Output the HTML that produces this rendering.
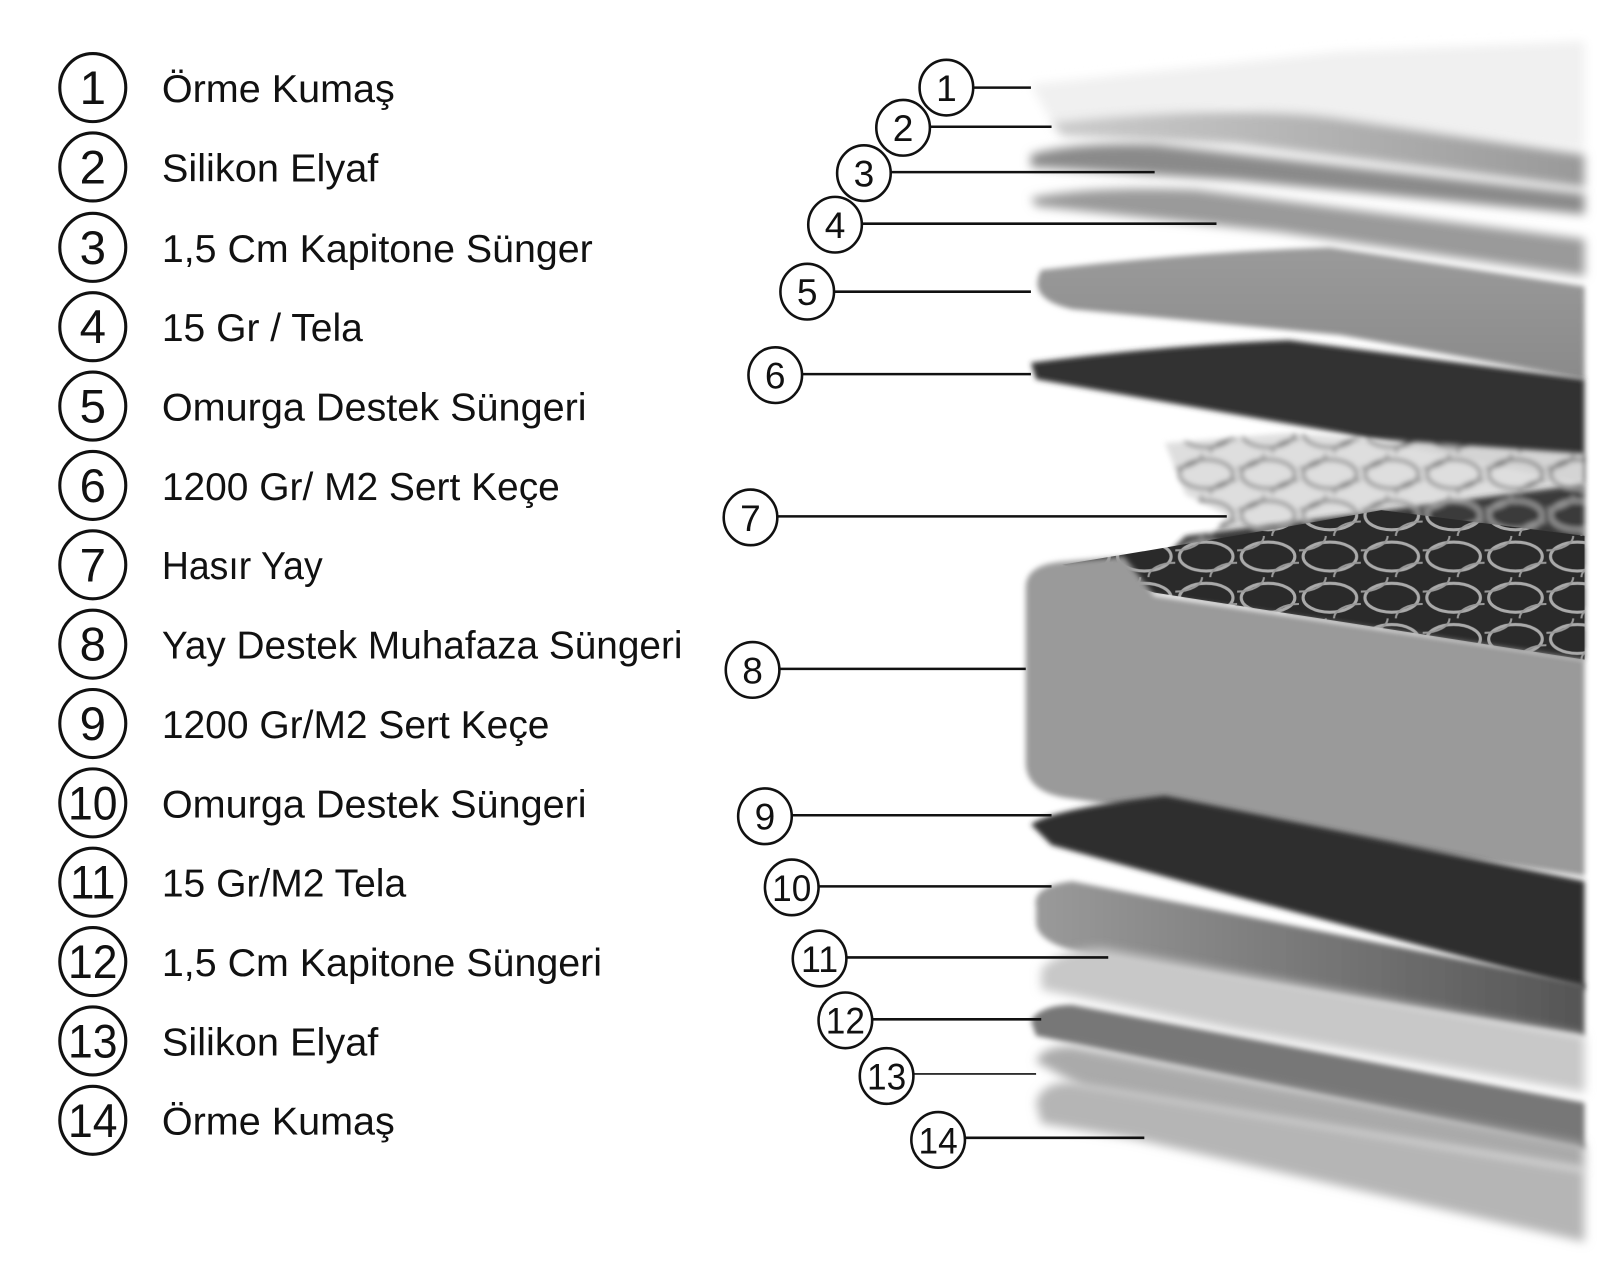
<!DOCTYPE html>
<html><head><meta charset="utf-8"><style>
html,body{margin:0;padding:0;background:#fff;width:1600px;height:1278px;overflow:hidden}
svg{display:block}
text{font-family:"Liberation Sans Narrow","Liberation Sans",sans-serif;fill:#111}
</style></head><body>
<svg width="1600" height="1278" viewBox="0 0 1552 1240" preserveAspectRatio="none" xmlns="http://www.w3.org/2000/svg">
<defs>
<filter id="b" x="-5%" y="-20%" width="110%" height="140%"><feGaussianBlur stdDeviation="5"/></filter>
<filter id="b2" x="-5%" y="-20%" width="110%" height="140%"><feGaussianBlur stdDeviation="2.5"/></filter>
<linearGradient id="g2" x1="0" y1="0" x2="1" y2="0"><stop offset="0" stop-color="#ccc"/><stop offset="1" stop-color="#999"/></linearGradient>
<linearGradient id="g5" x1="0" y1="0" x2="0" y2="1"><stop offset="0" stop-color="#9a9a9a"/><stop offset="1" stop-color="#8a8a8a"/></linearGradient>
<linearGradient id="g10" x1="0" y1="0" x2="1" y2="0"><stop offset="0" stop-color="#9a9a9a"/><stop offset="1" stop-color="#555"/></linearGradient>
<pattern id="sp" width="60" height="40" patternUnits="userSpaceOnUse"><rect width="60" height="40" fill="#2a2a2a"/><ellipse cx="30" cy="20" rx="26" ry="14" fill="none" stroke="#aaa" stroke-width="3"/><ellipse cx="0" cy="0" rx="26" ry="14" fill="none" stroke="#999" stroke-width="2"/><ellipse cx="60" cy="40" rx="26" ry="14" fill="none" stroke="#999" stroke-width="2"/></pattern>
<pattern id="sp2" width="60" height="40" patternUnits="userSpaceOnUse"><rect width="60" height="40" fill="#ddd"/><ellipse cx="30" cy="20" rx="26" ry="14" fill="none" stroke="#555" stroke-width="2.5"/><ellipse cx="0" cy="0" rx="26" ry="14" fill="none" stroke="#666" stroke-width="2"/><ellipse cx="60" cy="40" rx="26" ry="14" fill="none" stroke="#666" stroke-width="2"/></pattern>
</defs>

<!-- mattress layers -->
<g>
<path d="M1000,82 L1300,50 L1537,40 L1537,145 L1200,105 L1020,118 Z" fill="#f0f0f0" filter="url(#b)"/>
<path d="M1020,118 Q1200,100 1300,115 L1537,150 L1537,182 L1200,140 L1030,132 Z" fill="url(#g2)" filter="url(#b)"/>
<path d="M1000,150 Q1040,138 1120,140 L1537,188 L1537,208 L1200,175 L1000,162 Z" fill="#8a8a8a" filter="url(#b)"/>
<path d="M1000,192 Q1060,180 1160,184 L1537,232 L1537,268 L1240,225 L1005,200 Z" fill="#9a9a9a" filter="url(#b)"/>
<path d="M1010,262 Q1150,245 1290,240 L1537,278 L1537,368 L1300,325 L1040,300 Q995,290 1010,262 Z" fill="url(#g5)" filter="url(#b2)"/>
<path d="M1000,352 Q1130,335 1250,330 L1537,368 L1537,470 L1300,420 L1005,368 Z" fill="#333" filter="url(#b2)"/>
<!-- springs -->
<path d="M1130,430 L1250,420 L1537,440 L1537,640 L1300,600 L1150,560 L1190,500 L1150,480 Z" fill="url(#sp2)" filter="url(#b2)" opacity="0.95"/>
<path d="M1150,520 L1537,470 L1537,640 L1100,570 Z" fill="url(#sp)" filter="url(#b2)" opacity="0.9"/>
<!-- box -->
<path d="M1030,548 Q1200,520 1340,495 L1537,520 L1537,640 L1120,575 Z" fill="url(#sp)"/>
<path d="M995,570 Q995,548 1030,545 L1090,540 L1120,578 L1537,640 L1537,850 L1040,775 Q995,770 995,740 Z" fill="#9a9a9a" filter="url(#b2)"/>
<path d="M1000,800 Q1020,785 1130,772 L1537,855 L1537,960 L1200,870 L1020,820 Z" fill="#2e2e2e" filter="url(#b2)"/>
<path d="M1005,880 Q1000,860 1040,855 L1537,955 L1537,1005 L1080,930 Q1005,920 1005,895 Z" fill="url(#g10)" filter="url(#b2)"/>
<path d="M1010,940 Q1030,920 1070,920 L1537,1005 L1537,1060 L1200,1000 L1010,960 Z" fill="#c8c8c8" filter="url(#b)"/>
<path d="M1000,990 Q1010,975 1040,975 L1537,1070 L1537,1115 L1100,1025 L1005,1005 Z" fill="#777" filter="url(#b2)"/>
<path d="M1005,1030 Q1010,1015 1040,1015 L1537,1110 L1537,1135 L1050,1055 Z" fill="#aaa" filter="url(#b)"/>
<path d="M1005,1070 Q1010,1050 1040,1050 L1537,1135 L1537,1205 L1100,1105 L1010,1090 Z" fill="#b5b5b5" filter="url(#b)"/>
</g>

<!-- right callouts -->
<g stroke="#111" stroke-width="2.5" fill="#fff">
<line x1="944" y1="85" x2="1000" y2="85"/>
<line x1="902" y1="123" x2="1020" y2="123"/>
<line x1="864" y1="167" x2="1120" y2="167"/>
<line x1="836" y1="217" x2="1180" y2="217"/>
<line x1="809" y1="283" x2="1000" y2="283"/>
<line x1="778" y1="363" x2="1000" y2="363"/>
<line x1="754" y1="501" x2="1190" y2="501"/>
<line x1="756" y1="649" x2="995" y2="649"/>
<line x1="768" y1="791" x2="1020" y2="791"/>
<line x1="794" y1="860" x2="1020" y2="860"/>
<line x1="821" y1="929" x2="1075" y2="929"/>
<line x1="846" y1="989" x2="1010" y2="989"/>
<line x1="886" y1="1042" x2="1005" y2="1042" stroke-width="1.5"/>
<line x1="936" y1="1104" x2="1110" y2="1104"/>
<ellipse cx="918" cy="85" rx="26" ry="27"/>
<ellipse cx="876" cy="124" rx="26" ry="27"/>
<ellipse cx="838" cy="168" rx="26" ry="27"/>
<ellipse cx="810" cy="218" rx="26" ry="27"/>
<ellipse cx="783" cy="283" rx="26" ry="27"/>
<ellipse cx="752" cy="364" rx="26" ry="27"/>
<ellipse cx="728" cy="502" rx="26" ry="27"/>
<ellipse cx="730" cy="650" rx="26" ry="27"/>
<ellipse cx="742" cy="792" rx="26" ry="27"/>
<ellipse cx="768" cy="861" rx="26" ry="27"/>
<ellipse cx="795" cy="930" rx="26" ry="27"/>
<ellipse cx="820" cy="990" rx="26" ry="27"/>
<ellipse cx="860" cy="1044" rx="26" ry="27"/>
<ellipse cx="910" cy="1106" rx="26" ry="27"/>
</g>
<g font-size="36" text-anchor="middle">
<text x="918" y="98">1</text><text x="876" y="137">2</text><text x="838" y="181">3</text><text x="810" y="231">4</text>
<text x="783" y="296">5</text><text x="752" y="377">6</text><text x="728" y="515">7</text><text x="730" y="663">8</text>
<text x="742" y="805">9</text>
<text x="768" y="874" textLength="38" lengthAdjust="spacingAndGlyphs">10</text>
<text x="795" y="943" textLength="36" lengthAdjust="spacingAndGlyphs">11</text>
<text x="820" y="1003" textLength="38" lengthAdjust="spacingAndGlyphs">12</text>
<text x="860" y="1057" textLength="38" lengthAdjust="spacingAndGlyphs">13</text>
<text x="910" y="1119" textLength="38" lengthAdjust="spacingAndGlyphs">14</text>
</g>

<!-- left legend -->
<g stroke="#111" stroke-width="3" fill="none">
<ellipse cx="90" cy="85" rx="32" ry="33"/><ellipse cx="90" cy="162" rx="32" ry="33"/><ellipse cx="90" cy="240" rx="32" ry="33"/>
<ellipse cx="90" cy="317" rx="32" ry="33"/><ellipse cx="90" cy="394" rx="32" ry="33"/><ellipse cx="90" cy="471" rx="32" ry="33"/>
<ellipse cx="90" cy="548" rx="32" ry="33"/><ellipse cx="90" cy="625" rx="32" ry="33"/><ellipse cx="90" cy="702" rx="32" ry="33"/>
<ellipse cx="90" cy="779" rx="32" ry="33"/><ellipse cx="90" cy="856" rx="32" ry="33"/><ellipse cx="90" cy="933" rx="32" ry="33"/>
<ellipse cx="90" cy="1010" rx="32" ry="33"/><ellipse cx="90" cy="1087" rx="32" ry="33"/>
</g>
<g font-size="46" text-anchor="middle">
<text x="90" y="101">1</text><text x="90" y="178">2</text><text x="90" y="256">3</text><text x="90" y="333">4</text>
<text x="90" y="410">5</text><text x="90" y="487">6</text><text x="90" y="564">7</text><text x="90" y="641">8</text>
<text x="90" y="718">9</text>
<text x="90" y="795" textLength="48" lengthAdjust="spacingAndGlyphs">10</text>
<text x="90" y="872" textLength="44" lengthAdjust="spacingAndGlyphs">11</text>
<text x="90" y="949" textLength="48" lengthAdjust="spacingAndGlyphs">12</text>
<text x="90" y="1026" textLength="48" lengthAdjust="spacingAndGlyphs">13</text>
<text x="90" y="1103" textLength="48" lengthAdjust="spacingAndGlyphs">14</text>
</g>
<g font-size="38" lengthAdjust="spacingAndGlyphs">
<text x="157" y="99" textLength="226" lengthAdjust="spacingAndGlyphs">Örme Kumaş</text>
<text x="157" y="176" textLength="210" lengthAdjust="spacingAndGlyphs">Silikon Elyaf</text>
<text x="157" y="254" textLength="418" lengthAdjust="spacingAndGlyphs">1,5 Cm Kapitone Sünger</text>
<text x="157" y="331" textLength="195" lengthAdjust="spacingAndGlyphs">15 Gr / Tela</text>
<text x="157" y="408" textLength="412" lengthAdjust="spacingAndGlyphs">Omurga Destek Süngeri</text>
<text x="157" y="485" textLength="386" lengthAdjust="spacingAndGlyphs">1200 Gr/ M2 Sert Keçe</text>
<text x="157" y="562" textLength="156" lengthAdjust="spacingAndGlyphs">Hasır Yay</text>
<text x="157" y="639" textLength="505" lengthAdjust="spacingAndGlyphs">Yay Destek Muhafaza Süngeri</text>
<text x="157" y="716" textLength="376" lengthAdjust="spacingAndGlyphs">1200 Gr/M2 Sert Keçe</text>
<text x="157" y="793" textLength="412" lengthAdjust="spacingAndGlyphs">Omurga Destek Süngeri</text>
<text x="157" y="870" textLength="237" lengthAdjust="spacingAndGlyphs">15 Gr/M2 Tela</text>
<text x="157" y="947" textLength="427" lengthAdjust="spacingAndGlyphs">1,5 Cm Kapitone Süngeri</text>
<text x="157" y="1024" textLength="210" lengthAdjust="spacingAndGlyphs">Silikon Elyaf</text>
<text x="157" y="1101" textLength="226" lengthAdjust="spacingAndGlyphs">Örme Kumaş</text>
</g>
</svg>
</body></html>
